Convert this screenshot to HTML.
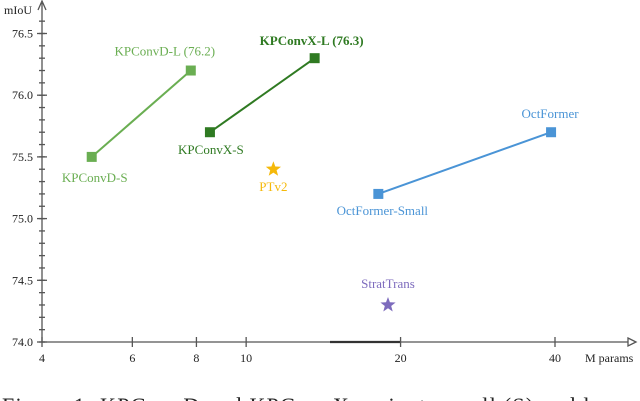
<!DOCTYPE html>
<html><head><meta charset="utf-8"><style>
body{margin:0;background:#fff;}
svg{display:block;font-family:"Liberation Serif",serif;}
</style></head><body>
<svg id="chart" width="640" height="401" viewBox="0 0 640 401" xmlns="http://www.w3.org/2000/svg"></svg>
<script>
const xTicks=[4,6,8,10,20,40];
const yTicks=[74.0,74.5,75.0,75.5,76.0,76.5];
const seriesD_x=[5.0,7.8];
const seriesD_y=[75.5,76.2];
const seriesX_x=[8.5,13.6];
const seriesX_y=[75.7,76.3];
const seriesOct_x=[18.1,39.3];
const seriesOct_y=[75.2,75.7];
const ptv2=[11.3,75.4];
const strat=[18.9,74.3];

const NS="http://www.w3.org/2000/svg";
const svg=document.getElementById('chart');
function X(v){return 42+513*Math.log10(v/4);}
function Y(v){return 342-(v-74)*123.4;}
function el(tag,attrs,parent){const e=document.createElementNS(NS,tag);for(const k in attrs)e.setAttribute(k,attrs[k]);(parent||svg).appendChild(e);return e;}
function txt(s,x,y,attrs){const t=el('text',Object.assign({x:x,y:y,'font-size':13},attrs||{}));t.textContent=s;return t;}

const ax=el('g',{stroke:'#555','stroke-width':1.3,fill:'none'});


el('line',{x1:42,y1:342,x2:632,y2:342},ax);
el('line',{x1:42,y1:342,x2:42,y2:3},ax);
el('path',{d:'M38,10 L42,1 L46,10'},ax);
el('path',{d:'M628,338 L636,342 L628,346 Z',fill:'#fff'},ax);
el('line',{x1:330,y1:342,x2:400,y2:342,'stroke-width':2.2,stroke:'#333'},ax);
for(let v=74.0;v<=76.61;v+=0.1){const y=Y(v);el('line',{x1:39,y1:y,x2:45,y2:y},ax);}
yTicks.forEach(v=>{const y=Y(v);el('line',{x1:37,y1:y,x2:47,y2:y},ax);
 const t=txt(v.toFixed(1),33,y+4,{'text-anchor':'end','font-size':12,fill:'#222'});
 
 });
xTicks.forEach(v=>{const x=X(v);el('line',{x1:x,y1:337,x2:x,y2:347},ax);
 const t=txt(String(v),x,362,{'text-anchor':'middle','font-size':12,fill:'#222'});
 
 });
const yt=txt('mIoU',4,14,{'font-size':12,fill:'#222'});


const xt=txt('M params',585,362,{'font-size':12,fill:'#222'});



function series(xs,ys,color,name){
 const g=el('g',{});
 
 
 el('line',{x1:X(xs[0]),y1:Y(ys[0]),x2:X(xs[1]),y2:Y(ys[1]),stroke:color,'stroke-width':2},g);
 for(let i=0;i<xs.length;i++){const r=el('rect',{x:X(xs[i])-5,y:Y(ys[i])-5,width:10,height:10,fill:color},g);
  
  }
}
series(seriesD_x,seriesD_y,'#6aae52','kpconvd-series');
series(seriesX_x,seriesX_y,'#2f7a22','kpconvx-series');
series(seriesOct_x,seriesOct_y,'#4a94d6','octformer-series');

function star(cx,cy,r,color,name){
 let d='';for(let i=0;i<10;i++){const a=-Math.PI/2+i*Math.PI/5;const rr=i%2?r*0.42:r;d+=(i?'L':'M')+(cx+rr*Math.cos(a)).toFixed(1)+','+(cy+rr*Math.sin(a)).toFixed(1);}
 const p=el('path',{d:d+'Z',fill:color});
 
 
}
star(X(ptv2[0]),Y(ptv2[1]),8,'#f5b90a','ptv2-star');
star(X(strat[0]),Y(strat[1]),8,'#7d6bbd','strattrans-star');

function label(s,x,y,color,name,bold){const t=txt(s,x,y,{fill:color,'font-size':13,'text-anchor':'middle','font-weight':bold?'bold':'normal'});
 
 }
label('KPConvD-L (76.2)',X(seriesD_x[1])-26,Y(seriesD_y[1])-15,'#6aae52','kpconvd-l-label');
label('KPConvD-S',X(seriesD_x[0])+3,Y(seriesD_y[0])+25,'#6aae52','kpconvd-s-label');
label('KPConvX-L (76.3)',X(seriesX_x[1])-3,Y(seriesX_y[1])-13,'#2f7a22','kpconvx-l-label',true);
label('KPConvX-S',X(seriesX_x[0])+1,Y(seriesX_y[0])+22,'#2f7a22','kpconvx-s-label');
label('PTv2',X(ptv2[0]),Y(ptv2[1])+22,'#f5b90a','ptv2-label');
label('OctFormer',X(seriesOct_x[1])-1,Y(seriesOct_y[1])-14,'#4a94d6','octformer-label');
label('OctFormer-Small',X(seriesOct_x[0])+4,Y(seriesOct_y[0])+21,'#4a94d6','octformer-small-label');
label('StratTrans',X(strat[0]),Y(strat[1])-17,'#7d6bbd','strattrans-label');

const cap=txt('Figure 1:  KPConvD and KPConvX variants small (S) and large',2,413,{'font-size':22,fill:'#222','textLength':630});


</script>
</body></html>
